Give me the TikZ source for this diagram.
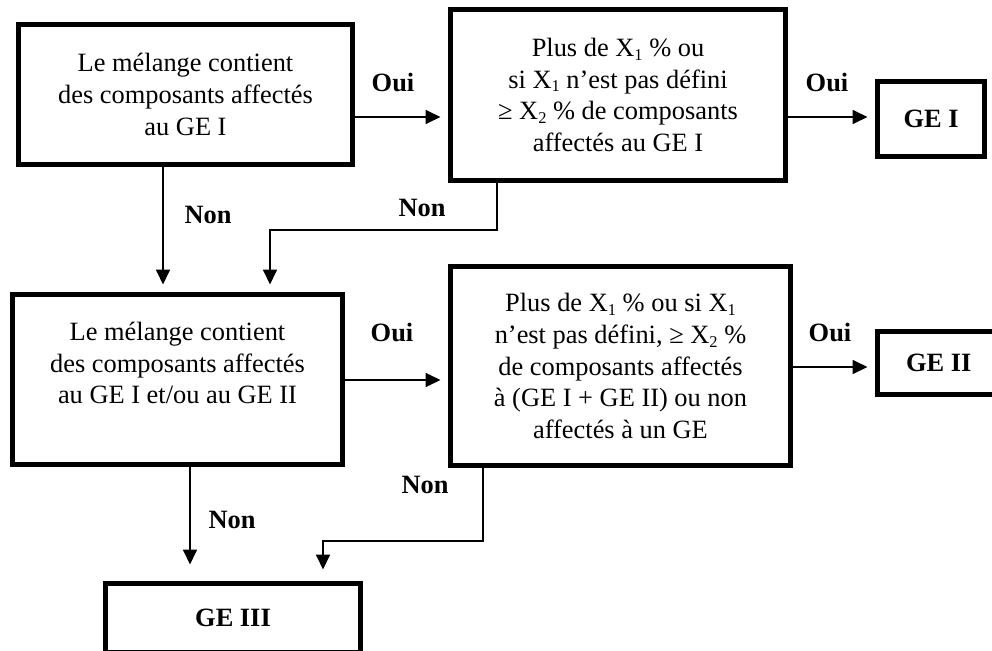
\documentclass[tikz,border=0pt]{standalone}
\usepackage{fontspec}
\setmainfont{Liberation Serif}
\usetikzlibrary{arrows.meta}
\newcommand\sbx[1]{\raisebox{-0.14em}{\fontsize{16.5}{16.5}\selectfont #1}}
\begin{document}
\begin{tikzpicture}[x=1pt,y=-1pt,
  txtfont/.style={font=\fontsize{26.4}{31.7}\selectfont},
  box/.style={draw, line width=5pt, inner sep=0pt, align=center, txtfont},
  plain/.style={inner sep=0pt, align=center, txtfont},
  lbl/.style={inner sep=0pt, font=\fontsize{26.4}{31.7}\selectfont\bfseries},
  gebox/.style={box, font=\fontsize{26.4}{31.7}\selectfont\bfseries},
  conn/.style={line width=1.8pt},
  arr/.style={conn, -{Triangle[length=15pt,width=14pt]}},
]
\useasboundingbox (0,0) rectangle (992,650);

% boxes
\node[box, minimum width=334pt, minimum height=140pt] (b1) at (185.5,94.5)
  {Le mélange contient\\des composants affectés\\au GE I};
\node[box, minimum width=335pt, minimum height=171pt] (b2) at (618,95)
  {Plus de X\sbx{1} \% ou\\si X\sbx{1} n’est pas défini\\≥ X\sbx{2} \% de composants\\affectés au GE I};
\node[gebox, minimum width=107pt, minimum height=75pt] (g1) at (931,119) {GE I};
\node[box, minimum width=330pt, minimum height=170pt] (b3) at (177.5,379.5) {};
\node[plain] (t3) at (177.5,363)
  {Le mélange contient\\des composants affectés\\au GE I et/ou au GE II};
\node[box, minimum width=340pt, minimum height=199.5pt] (b4) at (620.5,366)
  {Plus de X\sbx{1} \% ou si X\sbx{1}\\n’est pas défini, ≥ X\sbx{2} \%\\de composants affectés\\à (GE I + GE II) ou non\\affectés à un GE};
\node[gebox, minimum width=122.5pt, minimum height=63pt] (g2) at (938.75,363) {GE II};
\node[gebox, minimum width=255pt, minimum height=69pt] (g3) at (233,618) {GE III};

% connectors
\draw[arr, shorten >=7.5pt] (b1.east |- 0,117) -- (b2.west |- 0,117);
\draw[arr, shorten >=7.5pt] (b2.east |- 0,117) -- (g1.west |- 0,117);
\draw[arr, shorten >=7.5pt] (b1.south -| 163,0) -- (b3.north -| 163,0);
\draw[arr, shorten >=7.5pt] (b2.south -| 497,0) -- (497,230) -- (270,230) -- (b3.north -| 270,0);
\draw[arr, shorten >=7.5pt] (b3.east |- 0,380) -- (b4.west |- 0,380);
\draw[arr, shorten >=7.5pt] (b4.east |- 0,367) -- (g2.west |- 0,367);
\draw[arr, shorten >=16.5pt] (b3.south -| 190,0) -- (g3.north -| 190,0);
\draw[arr, shorten >=11.5pt] (b4.south -| 483,0) -- (483,541) -- (323,541) -- (g3.north -| 323,0);

% labels
\node[lbl] (oui1) at (393,83) {Oui};
\node[lbl] (oui2) at (827,83) {Oui};
\node[lbl] (non1) at (208,215) {Non};
\node[lbl] (non2) at (422,208) {Non};
\node[lbl] (oui3) at (392,332) {Oui};
\node[lbl] (oui4) at (830,332) {Oui};
\node[lbl] (non3) at (232,520) {Non};
\node[lbl] (non4) at (425,485) {Non};
\end{tikzpicture}
\end{document}
